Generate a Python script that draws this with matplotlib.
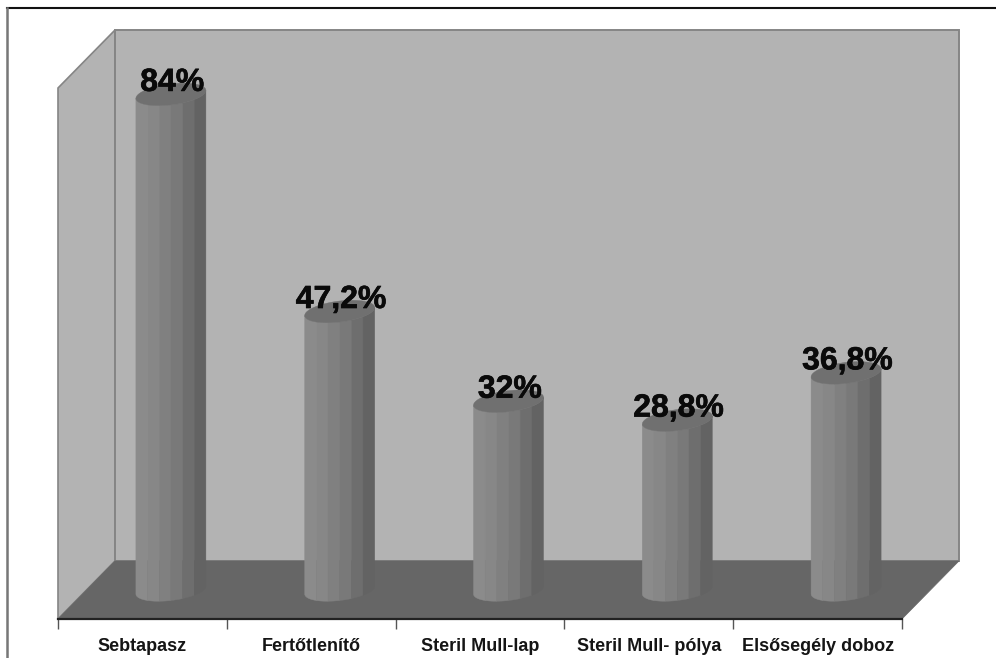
import numpy as np
import matplotlib
matplotlib.use('Agg')
import matplotlib.pyplot as plt
import matplotlib.patheffects as pe
from matplotlib.lines import Line2D
from matplotlib.patches import Polygon

categories = ['Sebtapasz', 'Fertőtlenítő', 'Steril Mull-lap', 'Steril Mull- pólya', 'Elsősegély doboz']
values = [84, 47.2, 32, 28.8, 36.8]
value_labels = ['84%', '47,2%', '32%', '28,8%', '36,8%']

W, H = 996, 658
plt.rcParams['font.family'] = ['Liberation Sans', 'DejaVu Sans']

fig = plt.figure(figsize=(W / 100, H / 100), dpi=100, facecolor='white')

# axes = front plane of the 3D box
ax = fig.add_axes([58 / W, (H - 619) / H, 844 / W, 531 / H])
ax.set_xlim(0, 5)
ax.set_ylim(0, 90)
ax.patch.set_visible(False)

# depth of the box in data units
dx = 57 / 168.8
dy = 58 / 5.9
n = len(categories)
top = ax.get_ylim()[1]

# walls and floor
ax.add_patch(Polygon([(0, 0), (0, top), (dx, top + dy), (dx, dy)], closed=True,
                     fc='#b3b3b3', ec='#858585', lw=1.2, clip_on=False, zorder=1))
ax.add_patch(Polygon([(dx, dy), (dx, top + dy), (n + dx, top + dy), (n + dx, dy)], closed=True,
                     fc='#b3b3b3', ec='#858585', lw=1.4, clip_on=False, zorder=1))
ax.add_patch(Polygon([(0, 0), (n, 0), (n + dx, dy), (dx, dy)], closed=True,
                     fc='#666666', ec='#666666', lw=0.5, clip_on=False, zorder=2))

# cylinders: vertical shaded bands, seen from slightly above
band_greys = ['#8b8b8b', '#878787', '#808080', '#797979', '#6e6e6e', '#636363']
band_edges = np.arccos(np.linspace(-1, 1, len(band_greys) + 1))
rx = 35 / 168.8
ry = 10.5 / 5.9
tilt = 4 / 5.9


def rim(cx, cy, theta):
    # front half of the rim has theta in 0..pi, the back half is negative
    return cx + rx * np.cos(theta), cy - ry * np.sin(theta) + tilt * np.cos(theta)


for i, v in enumerate(values):
    cx = i + 0.5 + dx / 2
    base = dy / 2
    for j, grey in enumerate(band_greys):
        th = np.linspace(band_edges[j], band_edges[j + 1], 12)
        xt, yt = rim(cx, base + v, th)
        xb, yb = rim(cx, base, th[::-1])
        pts = np.column_stack([np.r_[xt, xb], np.r_[yt, yb]])
        ax.add_patch(Polygon(pts, closed=True, fc=grey, ec=grey, lw=0.3, clip_on=False, zorder=3))
    th = np.linspace(0, 2 * np.pi, 80)
    xe, ye = rim(cx, base + v, th)
    ax.add_patch(Polygon(np.column_stack([xe, ye]), closed=True, fc='#707070', ec='#707070',
                         lw=0.3, clip_on=False, zorder=4))
    ax.annotate(value_labels[i], (cx, base + v), xytext=(1, 8.3), textcoords='offset points',
                ha='center', va='center', fontsize=23, fontweight='bold', color='#0a0a0a',
                zorder=5, annotation_clip=False,
                path_effects=[pe.withStroke(linewidth=0.5, foreground='#0a0a0a')])

# category axis: ticks on the boundaries, labels between them
for side in ['top', 'left', 'right']:
    ax.spines[side].set_visible(False)
ax.spines['bottom'].set_color('#222222')
ax.spines['bottom'].set_linewidth(1.6)
ax.spines['bottom'].set_zorder(6)
ax.set_yticks([])
ax.set_xticks(np.arange(n + 1))
ax.set_xticklabels([])
ax.set_xticks(np.arange(n) + 0.5, minor=True)
ax.set_xticklabels(categories, minor=True, fontsize=13, fontweight='bold', color='#151515')
ax.tick_params(axis='x', which='major', length=7, width=1, color='#555555')
ax.tick_params(axis='x', which='minor', length=0, pad=14)

# outer frame
fig.add_artist(Line2D([7 / W, 1], [1 - 8 / H, 1 - 8 / H], color='#111111', lw=1.5))
fig.add_artist(Line2D([7 / W, 7 / W], [0, 1 - 8 / H], color='#777777', lw=1.8))

fig.savefig('out.png', dpi=100)
